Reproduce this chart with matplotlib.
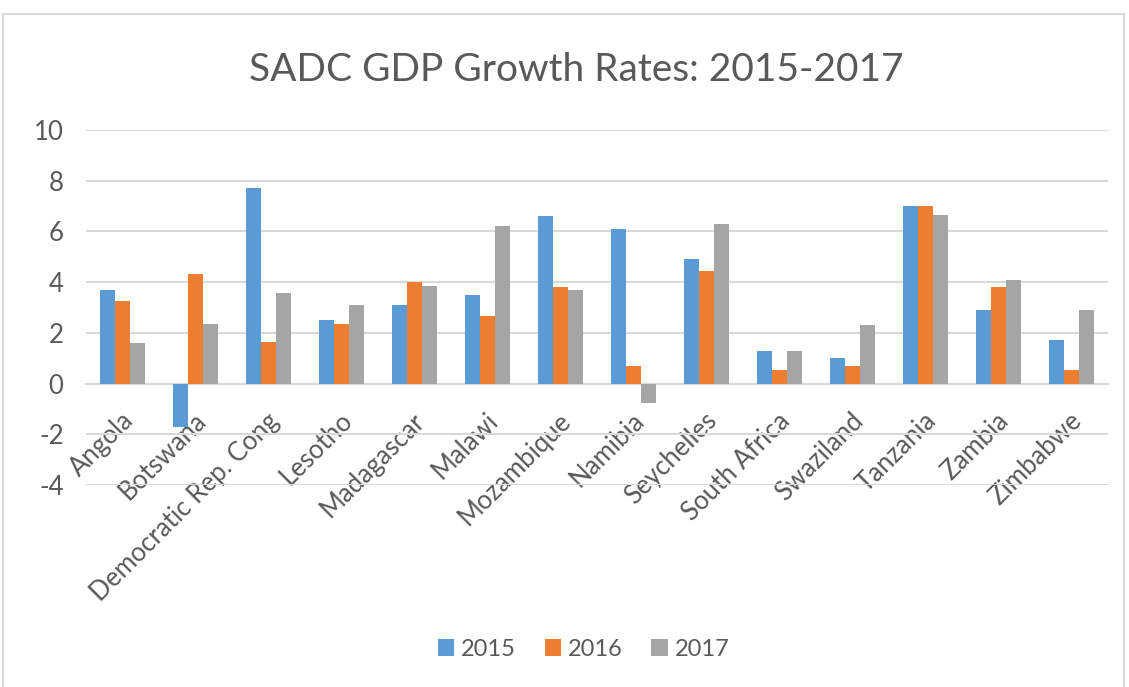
import matplotlib.pyplot as plt
import matplotlib.transforms as mtransforms
import numpy as np
from matplotlib.patches import Rectangle

countries = ['Angola', 'Botswana', 'Democratic Rep. Cong', 'Lesotho', 'Madagascar',
             'Malawi', 'Mozambique', 'Namibia', 'Seychelles', 'South Africa',
             'Swaziland', 'Tanzania', 'Zambia', 'Zimbabwe']
years = ['2015', '2016', '2017']
growth_2015 = [3.7, -1.7, 7.7, 2.5, 3.1, 3.5, 6.6, 6.1, 4.9, 1.3, 1.0, 7.0, 2.9, 1.7]
growth_2016 = [3.25, 4.3, 1.65, 2.35, 4.0, 2.65, 3.8, 0.7, 4.45, 0.55, 0.7, 7.0, 3.8, 0.55]
growth_2017 = [1.6, 2.35, 3.55, 3.1, 3.85, 6.2, 3.7, -0.75, 6.3, 1.3, 2.3, 6.65, 4.1, 2.9]

colors = ['#5B9BD5', '#ED7D31', '#A5A5A5']
text_color = '#595959'

plt.rcParams['font.family'] = ['Lato', 'DejaVu Sans']
plt.rcParams['axes.unicode_minus'] = False

fig = plt.figure(figsize=(11.29, 6.87), dpi=100)
ax = fig.add_axes([0.076, 0.294, 0.905, 0.517])

x = np.arange(len(countries))
width = 0.205
for i, (vals, year) in enumerate(zip([growth_2015, growth_2016, growth_2017], years)):
    ax.bar(x + (i - 1) * width, vals, width, color=colors[i], label=year, zorder=3)

ax.set_xlim(-0.5, len(countries) - 0.5)
ax.set_ylim(-4, 10)
ax.set_yticks(np.arange(-4, 11, 2))
ax.yaxis.grid(True, color='#D9D9D9', linewidth=1.5, zorder=0)
ax.set_axisbelow(True)

for side in ['top', 'right', 'left']:
    ax.spines[side].set_visible(False)
ax.spines['bottom'].set_position(('data', 0))
ax.spines['bottom'].set_color('#D9D9D9')
ax.spines['bottom'].set_linewidth(1.5)
ax.spines['bottom'].set_zorder(1)

ax.set_xticks(x)
ax.set_xticklabels(countries, rotation=45, ha='right', va='center',
                   rotation_mode='anchor')
ax.tick_params(axis='both', length=0, labelsize=18.5, labelcolor=text_color)
ax.tick_params(axis='y', pad=16)
ax.tick_params(axis='x', pad=24)

# nudge the rotated labels a little to the right, like excel does
shift = mtransforms.ScaledTranslation(7 / 100, 0, fig.dpi_scale_trans)
for lbl in ax.get_xticklabels():
    lbl.set_transform(lbl.get_transform() + shift)

fig.suptitle('SADC GDP Growth Rates: 2015-2017', x=0.51, y=0.925, fontsize=28,
             color=text_color)

fig.legend(loc='center', bbox_to_anchor=(0.517, 0.055), ncol=3, frameon=False,
           fontsize=17, labelcolor=text_color, handlelength=0.7, handleheight=0.7,
           columnspacing=1.2, handletextpad=0.3)

fig.patches.append(Rectangle((0.003, -0.01), 0.993, 0.99, transform=fig.transFigure,
                             fill=False, edgecolor='#D9D9D9', linewidth=1.5))

fig.savefig('out.png', dpi=100)
